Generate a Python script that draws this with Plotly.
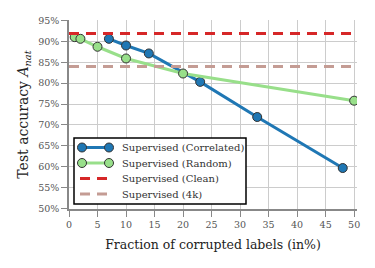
import plotly.graph_objects as go

corr_x = [7, 10, 14, 23, 33, 48]
corr_y = [90.6, 89.0, 87.1, 80.3, 71.9, 59.7]
rand_x = [1, 2, 5, 10, 20, 50]
rand_y = [91.0, 90.6, 88.7, 85.9, 82.3, 75.8]
clean_y = 91.85
k4_y = 84.0
labels = ["Supervised (Correlated)", "Supervised (Random)", "Supervised (Clean)", "Supervised (4k)"]
xticks = [0, 5, 10, 15, 20, 25, 30, 35, 40, 45, 50]
yticks = [50, 55, 60, 65, 70, 75, 80, 85, 90, 95]

FONT = "DejaVu Serif"
BLUE, GREEN, RED, TAN = "#1f77b4", "#98df8a", "#d62728", "#c49c94"
EDGE = "#333333"
DASH = "10px,7px"

fig = go.Figure()
fig.add_trace(go.Scatter(x=corr_x, y=corr_y, mode="lines+markers", name=labels[0],
                         line=dict(color=BLUE, width=3),
                         marker=dict(size=9, color=BLUE, line=dict(color=EDGE, width=1))))
fig.add_trace(go.Scatter(x=rand_x, y=rand_y, mode="lines+markers", name=labels[1],
                         line=dict(color=GREEN, width=3),
                         marker=dict(size=9, color=GREEN, line=dict(color=EDGE, width=1))))
fig.add_trace(go.Scatter(x=[0, 50.5], y=[clean_y, clean_y], mode="lines", name=labels[2],
                         line=dict(color=RED, width=3, dash=DASH)))
fig.add_trace(go.Scatter(x=[0, 50.5], y=[k4_y, k4_y], mode="lines", name=labels[3],
                         line=dict(color=TAN, width=3, dash=DASH)))

# plot-area geometry (pixels) used only to place the hand-drawn legend box
L, T, W, H = 69, 20, 288, 189
def px(xp):
    return (xp - L) / W
def py(yp):
    return (T + H - yp) / H

shapes = []
annotations = []
shapes.append(dict(type="rect", xref="paper", yref="paper",
                   x0=px(74), x1=px(246), y0=py(204), y1=py(138),
                   fillcolor="white", line=dict(color="black", width=1.5), layer="above"))
rows = [147.5, 163.0, 178.5, 194.0]
colors = [BLUE, GREEN, RED, TAN]
for i, (lab, col, ry) in enumerate(zip(labels, colors, rows)):
    if i < 2:
        shapes.append(dict(type="line", xref="paper", yref="paper",
                           x0=px(82), x1=px(109), y0=py(ry), y1=py(ry),
                           line=dict(color=col, width=3), layer="above"))
        for cx in (82, 109):
            shapes.append(dict(type="circle", xref="paper", yref="paper",
                               xsizemode="pixel", ysizemode="pixel",
                               xanchor=px(cx), yanchor=py(ry),
                               x0=-4.5, x1=4.5, y0=-4.5, y1=4.5,
                               fillcolor=col, line=dict(color=EDGE, width=1), layer="above"))
    else:
        shapes.append(dict(type="line", xref="paper", yref="paper",
                           x0=px(80), x1=px(107), y0=py(ry), y1=py(ry),
                           line=dict(color=col, width=3, dash=DASH), layer="above"))
    annotations.append(dict(text=lab, xref="paper", yref="paper",
                            x=px(120), y=py(ry), xanchor="left", yanchor="middle",
                            showarrow=False,
                            font=dict(family=FONT, size=10, color="#333333")))

fig.update_layout(
    width=375, height=268,
    margin=dict(l=69, r=18, t=20, b=59, autoexpand=False),
    paper_bgcolor="white", plot_bgcolor="white",
    font=dict(family=FONT, size=10, color="#333333"),
    showlegend=False,
    shapes=shapes, annotations=annotations,
)
fig.update_xaxes(range=[0, 50.5], tickvals=xticks, ticktext=[str(v) for v in xticks],
                 showgrid=True, gridcolor="#cccccc", gridwidth=1,
                 showline=True, linecolor="#888888", linewidth=1.5,
                 ticks="outside", ticklen=6, tickcolor="#888888",
                 zeroline=False, automargin=False,
                 tickfont=dict(family=FONT, size=9.5, color="#555555"),
                 title=dict(text="Fraction of corrupted labels (in%)", standoff=11,
                            font=dict(family=FONT, size=12.5, color="#222222")))
fig.update_yaxes(range=[49.9, 95.1], tickvals=yticks, ticktext=[f"{v}%" for v in yticks],
                 showgrid=True, gridcolor="#cccccc", gridwidth=1,
                 showline=True, linecolor="#888888", linewidth=1.5,
                 ticks="outside", ticklen=6, tickcolor="#888888",
                 zeroline=False, automargin=False,
                 tickfont=dict(family=FONT, size=9.5, color="#555555"),
                 title=dict(text="Test accuracy <i>A</i><sub><i>nat</i></sub>", standoff=6,
                            font=dict(family=FONT, size=14, color="#222222")))
fig.write_html("out.html", config={"displayModeBar": False},
               post_script="document.body.style.margin='0px';")
